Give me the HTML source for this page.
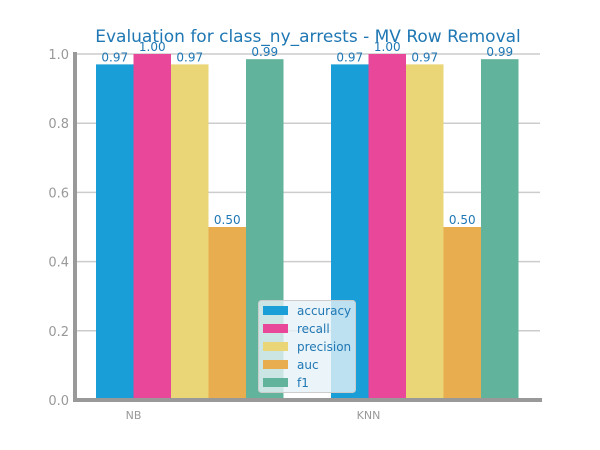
<!DOCTYPE html>
<html><head><meta charset="utf-8"><style>
body{margin:0;background:#fff;}
svg{display:block;font-family:"DejaVu Sans","Liberation Sans",sans-serif;}
</style></head><body>
<svg id="chart" width="600" height="450">
<text x="308" y="42" text-anchor="middle" font-size="17" fill="#1f77b4">Evaluation for class_ny_arrests - MV Row Removal</text>
<g id="grid"></g><g id="bars"></g><g id="axes"></g><g id="legend"></g>
</svg>
<script>
const categories = ["NB", "KNN"];
const metrics = ["accuracy", "recall", "precision", "auc", "f1"];
const colors = ["#1a9ed7", "#e8479a", "#ead577", "#e8ad4e", "#62b39b"];
const valuesNB = [0.97, 1.00, 0.97, 0.50, 0.985];
const valuesKNN = [0.97, 1.00, 0.97, 0.50, 0.985];
const labelsNB = ["0.97", "1.00", "0.97", "0.50", "0.99"];
const labelsKNN = ["0.97", "1.00", "0.97", "0.50", "0.99"];
const yTicks = [0, 0.2, 0.4, 0.6, 0.8, 1.0];
const yTickLabels = ["0.0", "0.2", "0.4", "0.6", "0.8", "1.0"];

const NS = "http://www.w3.org/2000/svg";
const x0 = 75, x1 = 540, y0 = 400, y1 = 54;
const ys = v => y0 - v * (y0 - y1);
const groupX = i => 133.5 + i * 235;   // tick position for category
const barW = 37.5;
function mk(tag, attrs, parent) {
  const e = document.createElementNS(NS, tag);
  for (const k in attrs) e.setAttribute(k, attrs[k]);
  parent.appendChild(e); return e;
}
const grid = document.getElementById("grid"), bars = document.getElementById("bars"),
      axes = document.getElementById("axes"), legend = document.getElementById("legend");

yTicks.forEach((t, i) => {
  const l = mk("line", {x1: x0, x2: x1, y1: ys(t), y2: ys(t), stroke: "#cccccc", "stroke-width": 1.5}, grid);
  
  
  const tx = mk("text", {x: 69, y: ys(t) + 5, "text-anchor": "end", "font-size": 13, fill: "#999"}, axes);
  tx.textContent = yTickLabels[i];
  
  
});

const series = [valuesNB, valuesKNN], labels = [labelsNB, labelsKNN];
categories.forEach((c, gi) => {
  metrics.forEach((m, mi) => {
    const v = series[gi][mi];
    const bx = groupX(gi) - barW + mi * barW;
    const r = mk("rect", {x: bx, y: ys(v), width: barW, height: y0 - ys(v), fill: colors[mi]}, bars);
    
    
    const t = mk("text", {x: bx + barW / 2, y: ys(v) - 3, "text-anchor": "middle", "font-size": 12, fill: "#1f77b4"}, bars);
    t.textContent = labels[gi][mi];
    
    
  });
  const xl = mk("text", {x: groupX(gi), y: 419, "text-anchor": "middle", "font-size": 11, fill: "#999"}, axes);
  xl.textContent = c;
  
  
});

const ly = mk("line", {x1: x0, x2: x0, y1: 52, y2: 402, stroke: "#999", "stroke-width": 4}, axes);


const lx = mk("line", {x1: 73, x2: 542, y1: y0, y2: y0, stroke: "#999", "stroke-width": 4}, axes);



const box = mk("rect", {x: 258.5, y: 300.5, width: 97, height: 92, rx: 3, fill: "#e6f1f8", "fill-opacity": 0.8, stroke: "#cccccc"}, legend);


metrics.forEach((m, i) => {
  const yy = 310 + i * 18;
  const sw = mk("rect", {x: 263, y: yy - 4, width: 25, height: 9, fill: colors[i]}, legend);
  
  
  const t = mk("text", {x: 297, y: yy + 5, "font-size": 12, fill: "#1f77b4"}, legend);
  t.textContent = m;
  
  
});
</script>
</body></html>
